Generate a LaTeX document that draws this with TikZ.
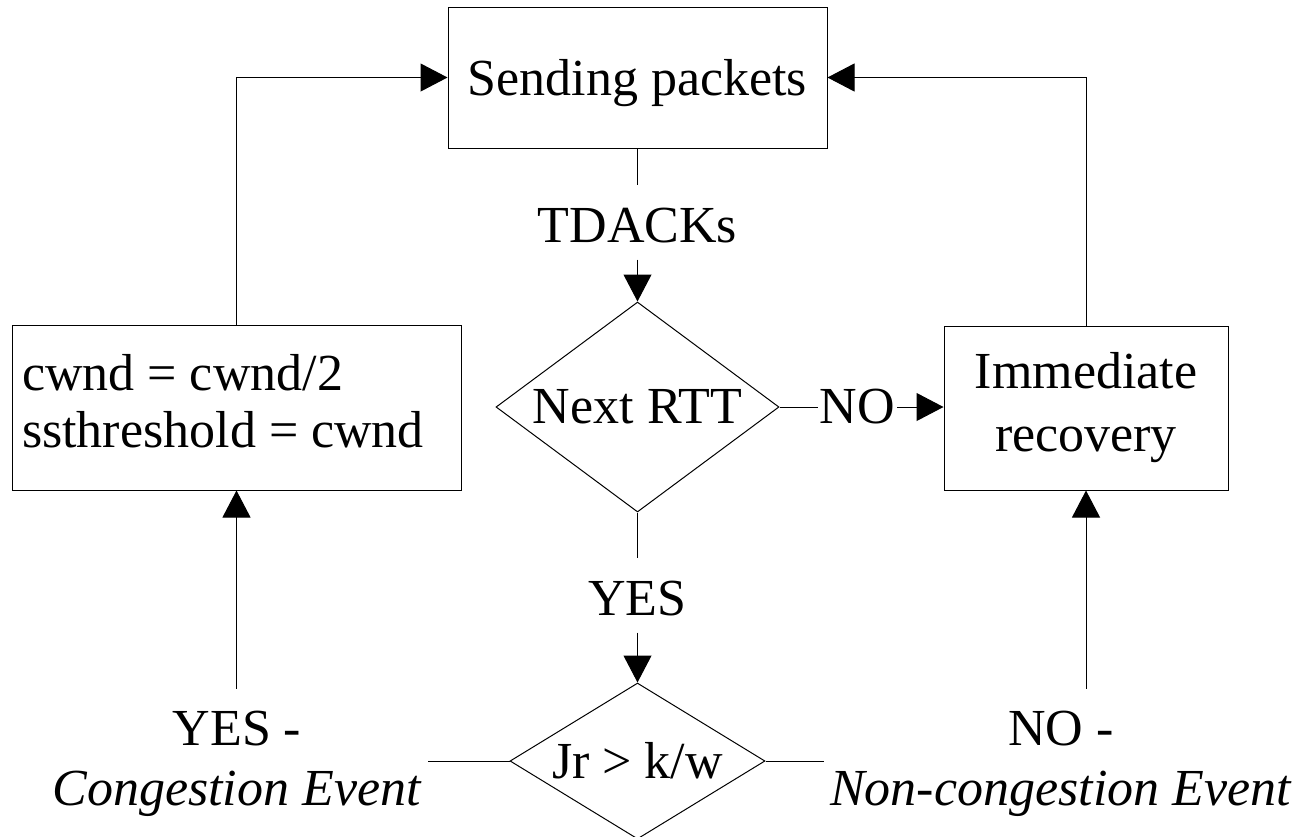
\documentclass[tikz,border=0pt]{standalone}
\usepackage{fontspec}
\setmainfont{Liberation Serif}
\usetikzlibrary{shapes.geometric,arrows.meta}

\begin{document}
\begin{tikzpicture}[x=1pt,y=1pt,
  every node/.style={font={\fontsize{52}{57}\selectfont}, inner sep=0pt},
  box/.style={draw, line width=1pt},
  decision/.style={draw, shape=diamond, line width=1pt},
  link/.style={line width=1pt},
  flow/.style={link, -{Triangle[length=27pt,width=28pt]}},
  flowlbl/.style={anchor=base, text height=57pt, text depth=17.5pt},
  eventlbl/.style={align=center, inner xsep=6pt, inner ysep=22pt,
                   font={\fontsize{52}{60}\selectfont}}
]
\useasboundingbox (0,0) rectangle (1300,-836);
\clip (0,0) rectangle (1300,-836);

% main column
\node[box, minimum width=379pt, minimum height=141pt,
      text height=35.5pt, text depth=0pt] (send) at (637.5,-77.5) {Sending packets};
\node[flowlbl] (tdacks) at (637.5,-242) {TDACKs};
\node[decision, minimum width=283pt, minimum height=210pt, shape aspect=1.35]
      (rtt) at (637.5,-407) {Next RTT};
\node[flowlbl] (yes) at (637.5,-615) {YES};
\node[decision, minimum width=255pt, minimum height=156pt, shape aspect=1.63]
      (jr) at (637.5,-761) {Jr > k/w};

% side boxes
\node[anchor=base, inner xsep=2pt] (no) at (857.5,-423) {NO};
\node[box, minimum width=284pt, minimum height=164pt, align=center,
      font={\fontsize{52}{63}\selectfont}] (rec) at (1086,-408) {Immediate\\recovery};
\node[box, text width=429pt, inner xsep=10pt, minimum height=165pt, align=flush left,
      text height=35.5pt, text depth=70.5pt] (cut) at (236.5,-407.5)
      {cwnd = cwnd/2\\ssthreshold = cwnd};

% outcome labels
\node[eventlbl] (cong) at (237,-763.5) {YES -\\\textit{Congestion Event}};
\node[eventlbl] (noncong) at (1061,-763.5) {NO -\\\textit{Non-congestion Event}};

% connectors
\draw[link] (send.south) -- (tdacks.north);
\draw[flow] (tdacks.south) -- (rtt.north);
\draw[link] (rtt.east) -- (rtt.east -| no.west);
\draw[flow] (no.east |- rtt.east) -- (rtt.east -| rec.west);
\draw[link] (rtt.south) -- (yes.north);
\draw[flow] (yes.south) -- (jr.north);
\draw[link] (jr.west) -- (jr.west -| cong.east);
\draw[link] (jr.east) -- (jr.east -| noncong.west);
\draw[flow] (cong.north -| cut.south) -- (cut.south);
\draw[flow] (noncong.north -| rec.south) -- (rec.south);
\draw[flow] (cut.north) |- (send.west);
\draw[flow] (rec.north) |- (send.east);
\end{tikzpicture}
\end{document}
